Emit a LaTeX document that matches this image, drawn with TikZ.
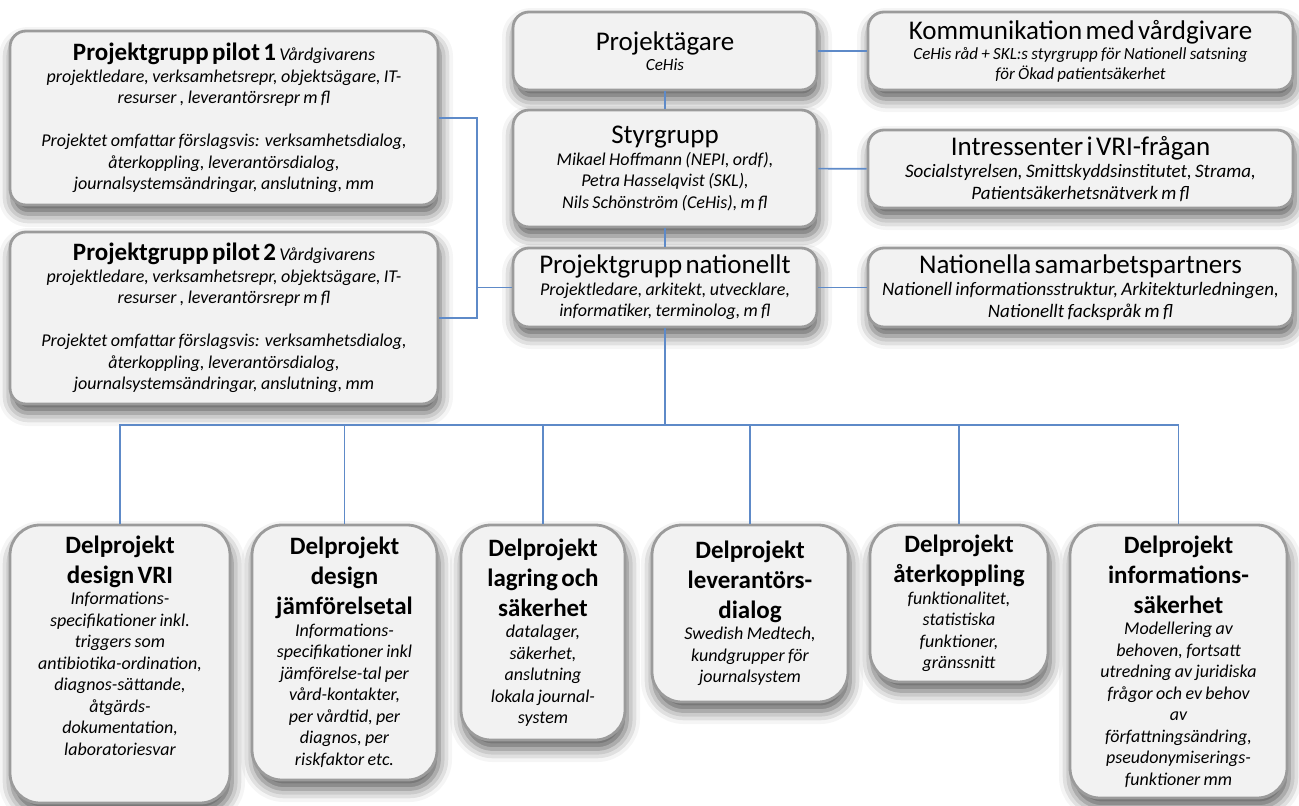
\documentclass[tikz,border=0pt]{standalone}
\usepackage{fontspec}
\setmainfont{Carlito}
\usetikzlibrary{shadows.blur}

\definecolor{boxfill}{RGB}{242,242,242}
\definecolor{boxline}{RGB}{155,155,155}
\definecolor{wireblue}{RGB}{94,138,200}

\newcommand\headbold{\fontsize{25}{30}\selectfont\bfseries}
\newcommand\headplain{\fontsize{27}{29}\selectfont}
\newcommand\bodyit{\fontsize{18}{21.5}\selectfont\itshape}
\newcommand\wideit{\fontsize{19}{22}\selectfont\itshape}
\newcommand\smallit{\fontsize{17}{20}\selectfont\itshape}

\tikzset{
  orgbox/.style={draw=boxline, fill=boxfill, line width=2.8pt, rounded corners=16pt,
    align=center, inner sep=0pt,
    blur shadow={shadow xshift=2pt, shadow yshift=-9pt, shadow blur radius=13pt, shadow opacity=65}},
  subbox/.style={orgbox, rounded corners=30pt},
  wire/.style={draw=wireblue, line width=1.6pt},
}

\begin{document}
\begin{tikzpicture}[x=1pt,y=-1pt]
   \useasboundingbox (0,0) rectangle (1299,806);

   % pilotgrupper till vänster
   \node[orgbox, minimum width=428pt, minimum height=174pt, text width=415pt] (pilotA) at (224,118)
     {{\headbold Projektgrupp pilot 1} {\bodyit Vårdgivarens\\ projektledare, verksamhetsrepr,  objektsägare, IT-\\ resurser , leverantörsrepr  m fl\\[21.5pt]
      Projektet omfattar förslagsvis: verksamhetsdialog,\\ återkoppling, leverantörsdialog,\\ journalsystemsändringar, anslutning, mm\par}};
   \node[orgbox, minimum width=428pt, minimum height=172pt, text width=415pt] (pilotB) at (224,318)
     {{\headbold Projektgrupp pilot 2} {\bodyit Vårdgivarens\\ projektledare, verksamhetsrepr,  objektsägare, IT-\\ resurser , leverantörsrepr  m fl\\[21.5pt]
      Projektet omfattar förslagsvis: verksamhetsdialog,\\ återkoppling, leverantörsdialog,\\ journalsystemsändringar, anslutning, mm\par}};

   % mittkolumnen
   \node[orgbox, minimum width=304pt, minimum height=78pt, text width=295pt] (owner) at (665,51)
     {{\headplain Projektägare\par}{\smallit CeHis\par}};
   \node[orgbox, minimum width=304pt, minimum height=117pt, text width=295pt] (steer) at (665,168.5)
     {{\headplain Styrgrupp\par}{\bodyit Mikael Hoffmann (NEPI, ordf),\\ Petra Hasselqvist  (SKL),\\ Nils Schönström  (CeHis), m fl\par}};
   \node[orgbox, minimum width=304pt, minimum height=79pt, text width=295pt] (natgrp) at (665,287.5)
     {{\headplain Projektgrupp nationellt\par}{\bodyit Projektledare, arkitekt,  utvecklare,\\ informatiker, terminolog, m fl\par}};

   % högerkolumnen
   \node[orgbox, minimum width=425pt, minimum height=78pt, text width=415pt] (comm) at (1080.5,51)
     {{\headplain Kommunikation med vårdgivare\par}{\smallit CeHis råd + SKL:s styrgrupp för  Nationell satsning\\ för Ökad patientsäkerhet\par}};
   \node[orgbox, minimum width=425pt, minimum height=78pt, text width=415pt] (stake) at (1080.5,169)
     {{\headplain Intressenter i VRI-frågan\par}{\wideit Socialstyrelsen, Smittskyddsinstitutet,   Strama,\\ Patientsäkerhetsnätverk  m fl\par}};
   \node[orgbox, minimum width=425pt, minimum height=79pt, text width=415pt] (partner) at (1080.5,287.5)
     {{\headplain Nationella samarbetspartners\par}{\wideit Nationell informationsstruktur,  Arkitekturledningen,\\ Nationellt fackspråk m fl\par}};

   % delprojekt
   \node[subbox, minimum width=220pt, minimum height=278pt, text width=210pt] (delvri) at (120,664)
     {{\headbold Delprojekt\\ design VRI\par}{\bodyit Informations-\\ specifikationer inkl.\\ triggers som\\ antibiotika-ordination,\\ diagnos-sättande,\\ åtgärds-\\ dokumentation,\\ laboratoriesvar\par}\rule{0pt}{36pt}};
   \node[subbox, minimum width=185pt, minimum height=255pt, text width=178pt] (deljmf) at (344.5,652.5)
     {{\headbold Delprojekt\\ design\\ jämförelsetal\par}{\bodyit Informations-\\ specifikationer inkl\\ jämförelse-tal  per\\ vård-kontakter,\\ per vårdtid, per\\ diagnos, per\\ riskfaktor  etc.\par}};
   \node[subbox, minimum width=164pt, minimum height=215pt, text width=158pt] (dellag) at (543,632.5)
     {{\headbold Delprojekt\\ lagring och\\ säkerhet\par}{\bodyit datalager,\\ säkerhet,\\ anslutning\\ lokala journal-\\ system\par}};
   \node[subbox, minimum width=196pt, minimum height=177pt, text width=188pt] (dellev) at (750,613.5)
     {{\headbold Delprojekt\\ leverantörs-\\ dialog\par}{\bodyit Swedish Medtech,\\ kundgrupper för\\ journalsystem\par}};
   \node[subbox, minimum width=178pt, minimum height=157pt, text width=170pt] (delater) at (959,603.5)
     {{\headbold Delprojekt\\ återkoppling\par}{\bodyit funktionalitet,\\ statistiska\\ funktioner,\\ gränssnitt\par}};
   \node[subbox, minimum width=217pt, minimum height=273pt, text width=210pt] (delinfo) at (1178.5,661.5)
     {{\headbold Delprojekt\\ informations-\\ säkerhet\par}{\bodyit Modellering av\\ behoven, fortsatt\\ utredning av juridiska\\ frågor och ev behov\\ av\\ författningsändring,\\ pseudonymiserings-\\ funktioner mm\par}};

   % förbindelser
   \coordinate (join) at (477,287.5);
   \coordinate (bus) at (665,425);
   \draw[wire] (pilotA.east) -| (join);
   \draw[wire] (pilotB.east) -| (join);
   \draw[wire] (join) -- (natgrp.west);
   \draw[wire] (owner) -- (steer);
   \draw[wire] (steer) -- (natgrp);
   \draw[wire] (owner) -- (comm);
   \draw[wire] (steer) -- (stake);
   \draw[wire] (natgrp) -- (partner);
   \draw[wire] (natgrp) -- (bus);
   \foreach \d in {delvri,deljmf,dellag,dellev,delater,delinfo}
     \draw[wire] (bus) -| (\d.north);

\end{tikzpicture}
\end{document}
